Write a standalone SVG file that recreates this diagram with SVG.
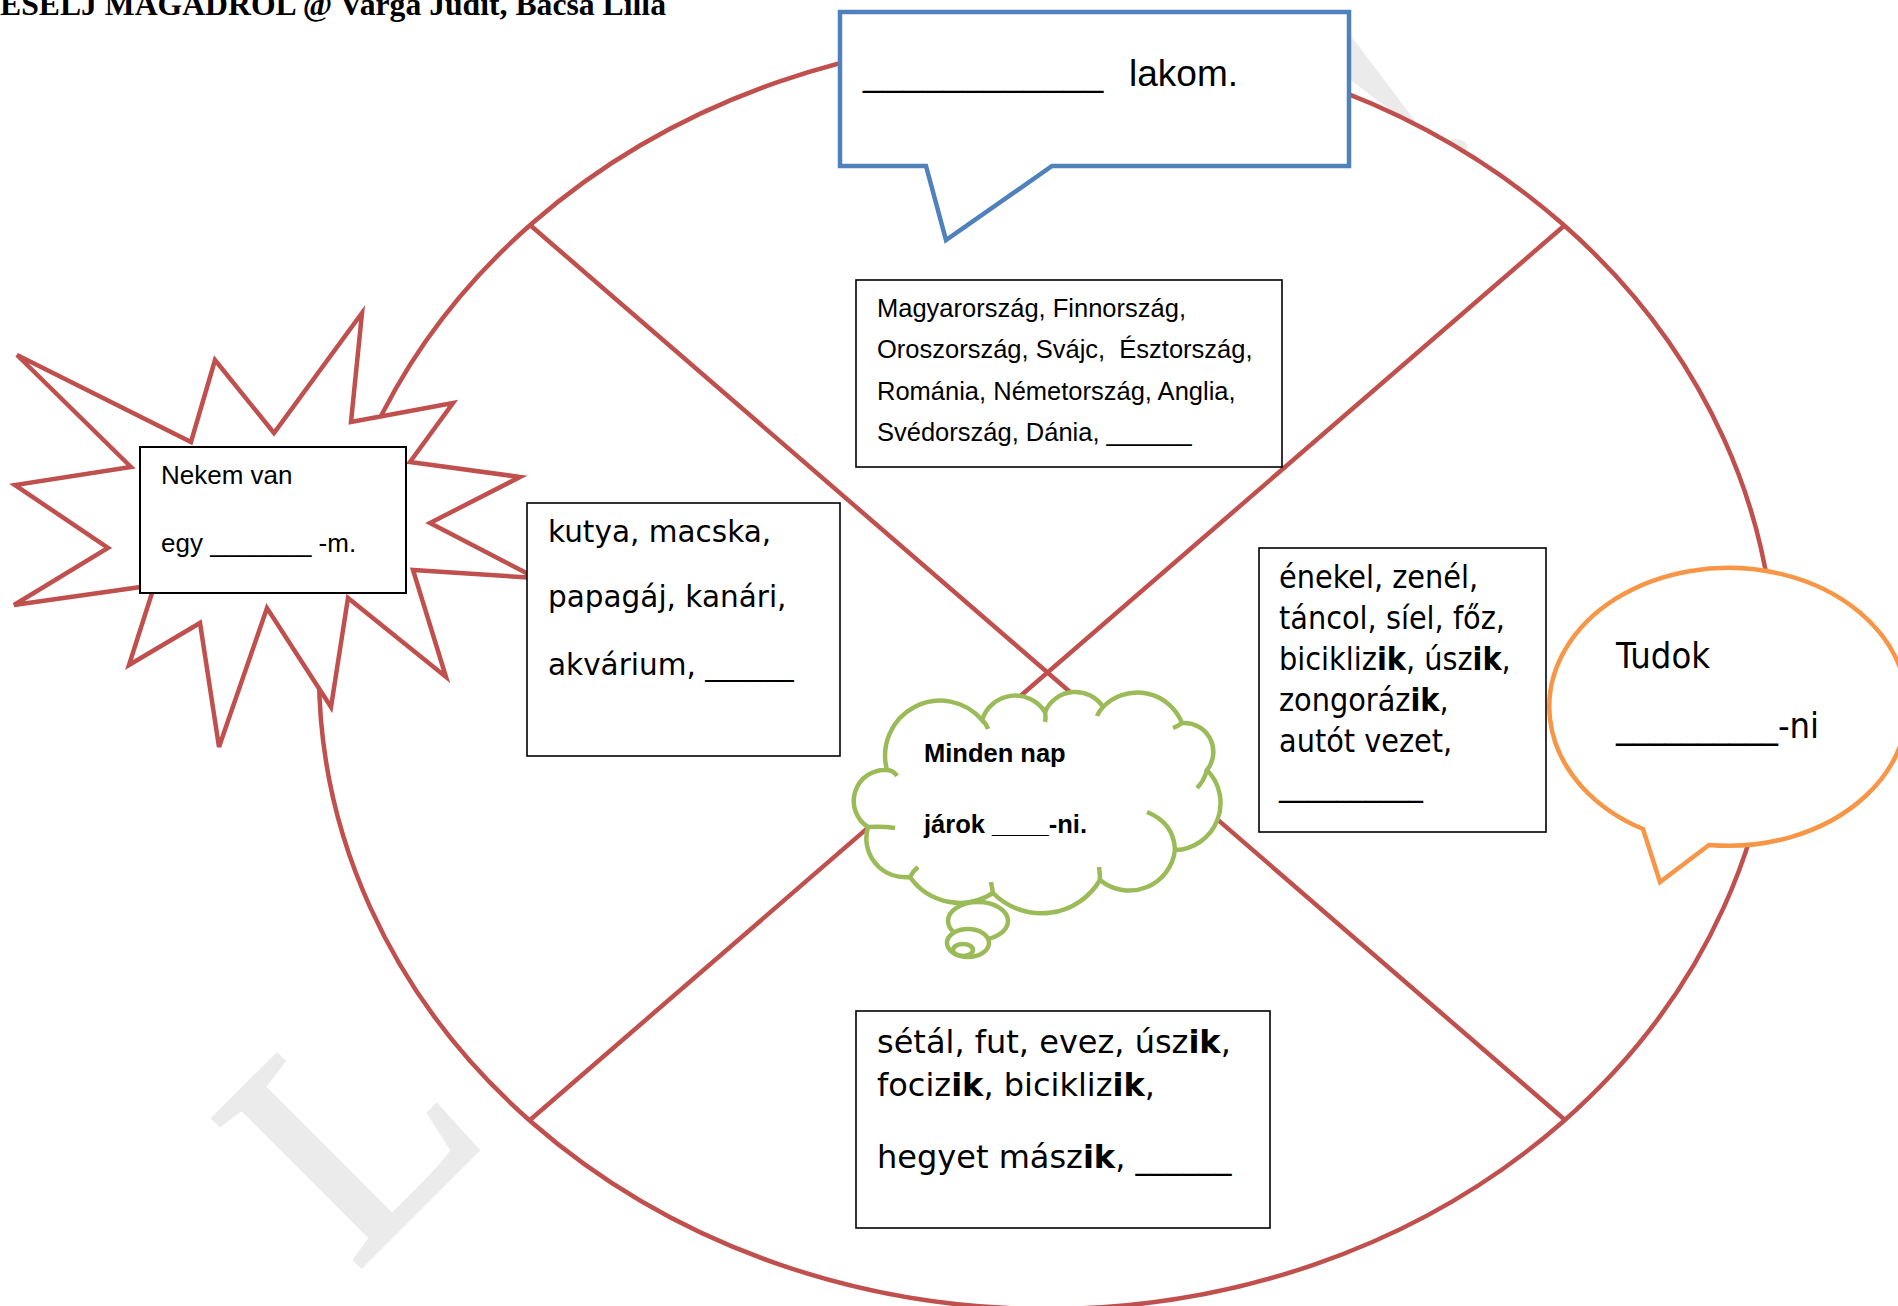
<svg xmlns="http://www.w3.org/2000/svg" width="1898" height="1306" viewBox="0 0 1898 1306">
<style>
.red{fill:#fff;stroke:#c0504d;stroke-width:4.5;stroke-linejoin:miter}
.redl{fill:none;stroke:#c0504d;stroke-width:4.5}
.box{fill:#fff;stroke:#000;stroke-width:1.6}
.green{fill:#fff;stroke:#9bbb59;stroke-width:4.5}
.curl{fill:none;stroke:#9bbb59;stroke-width:4.5}
.cal{font-family:"Liberation Sans",Arial,sans-serif;fill:#000}
.ver{font-family:"DejaVu Sans",Verdana,sans-serif;fill:#000}
.tah{font-family:"DejaVu Sans Condensed","DejaVu Sans",sans-serif;font-stretch:condensed;fill:#000}
.pre{white-space:pre}
.wm{fill:#ebebeb}
</style>
<rect x="0" y="0" width="1898" height="1306" fill="#fff"/>
<g id="watermark">
<text class="wm" transform="translate(355,1272) rotate(-45)" font-family="Liberation Serif" font-size="318" stroke="#ebebeb" stroke-width="5">L</text>
<polygon class="wm" points="1345,28 1428,138 1345,76"/>
<ellipse class="wm" cx="1455" cy="147" rx="12" ry="8"/>
</g>
<g id="circle">
<ellipse class="red" cx="1047" cy="673" rx="728" ry="636"/>
</g>
<g id="connectors">
<line class="redl" x1="530" y1="225" x2="1565" y2="1120"/>
<line class="redl" x1="1565" y1="225" x2="530" y2="1120"/>
</g>
<g id="starburst">
<polygon class="red" points="131,467 17,355 191,442 215,360 274,433 362,313 351,422 453,403 410,462 520,477 430,523 536,578 413,570 446,677 348,598 331,707 267,608 219,747 200,623 129,665 152,593 148,586 14,605 108,548 15,485"/>
</g>
<g id="nekem">
<rect class="box" x="140" y="447" width="266" height="146" style="stroke-width:2"/>
<text class="cal" x="161" y="484" font-size="26">Nekem van</text>
<text class="cal pre" x="161" y="552" font-size="26">egy _______ -m.</text>
</g>
<g id="lakom">
<path d="M840,12 H1349 V166 H1052 L946,240 L926,166 H840 Z" fill="#fff" stroke="#4f81bd" stroke-width="4.5"/>
<text class="cal pre" x="863" y="86" font-size="36">____________  <tspan x="1129" font-size="37">lakom.</tspan></text>
</g>
<g id="tudok">
<path d="M1643,829 A179,139 0 1 1 1709,845 L1660,882 Z" fill="#fff" stroke="#f79646" stroke-width="4.5"/>
<text class="tah" x="1616" y="668" font-size="36">Tudok</text>
<text class="tah" x="1616" y="738" font-size="36">__________-ni</text>
</g>
<g id="orszagok">
<rect class="box" x="856" y="280" width="426" height="187"/>
<text class="cal" x="877" y="317" font-size="25.5">Magyarország, Finnország,</text>
<text class="cal pre" x="877" y="358" font-size="25.5">Oroszország, Svájc,  Észtország,</text>
<text class="cal" x="877" y="400" font-size="25.5">Románia, Németország, Anglia,</text>
<text class="cal" x="877" y="441" font-size="25.5">Svédország, Dánia, ______</text>
</g>
<g id="allatok">
<rect class="box" x="527" y="503" width="313" height="253"/>
<text class="ver" x="548" y="542" font-size="29.5">kutya, macska,</text>
<text class="ver" x="548" y="607" font-size="29.5">papagáj, kanári,</text>
<text class="ver" x="548" y="675" font-size="29.5">akvárium, ______</text>
</g>
<g id="tudas">
<rect class="box" x="1259" y="548" width="287" height="284"/>
<text class="tah" x="1279" y="588" font-size="32">énekel, zenél,</text>
<text class="tah" x="1279" y="629" font-size="32">táncol, síel, főz,</text>
<text class="tah" x="1279" y="670" font-size="32">bicikliz<tspan font-weight="bold">ik</tspan>, úsz<tspan font-weight="bold">ik</tspan>,</text>
<text class="tah" x="1279" y="711" font-size="32">zongoráz<tspan font-weight="bold">ik</tspan>,</text>
<text class="tah" x="1279" y="752" font-size="32">autót vezet,</text>
<text class="tah" x="1279" y="795" font-size="32">__________</text>
</g>
<g id="sport">
<rect class="box" x="856" y="1011" width="414" height="217"/>
<text class="ver" x="877" y="1053" font-size="32">sétál, fut, evez, úsz<tspan font-weight="bold">ik</tspan>,</text>
<text class="ver" x="877" y="1096" font-size="32">fociz<tspan font-weight="bold">ik</tspan>, bicikliz<tspan font-weight="bold">ik</tspan>,</text>
<text class="ver" x="877" y="1168" font-size="32">hegyet mász<tspan font-weight="bold">ik</tspan>, ______</text>
</g>
<g id="cloud">
<path class="green" d="M868,827 A31,31 0 0 1 887,770 A55,55 0 0 1 982,720 A35,35 0 0 1 1045,712 A33,33 0 0 1 1103,707 A48,48 0 0 1 1182,723 A29,29 0 0 1 1207,770 A47,47 0 0 1 1175,850 A46,46 0 0 1 1100,880 A68,68 0 0 1 993,893 A61,61 0 0 1 910,877 A39,39 0 0 1 868,827 Z"/>
<path class="curl" d="M887,770 Q893,770 897,776 M982,720 Q986,723 988,729 M1045,712 Q1046,717 1045,722 M1103,707 Q1099,711 1097,716 M1182,723 Q1178,726 1173,728 M1207,770 Q1204,781 1197,788 M1175,850 Q1174,823 1147,812 M1100,880 Q1100,874 1099,867 M993,893 Q992,888 991,882 M910,877 Q913,871 918,867 M868,827 Q882,826 895,828"/>
<ellipse class="green" cx="978" cy="921" rx="30" ry="19"/>
<ellipse class="green" cx="968" cy="943" rx="21" ry="14"/>
<ellipse class="green" cx="963" cy="950" rx="10" ry="6"/>
<text class="cal" x="924" y="762" font-size="25.5" font-weight="bold">Minden nap</text>
<text class="cal" x="924" y="833" font-size="25.5" font-weight="bold">járok ____-ni.</text>
</g>
<g id="title">
<text x="0" y="15" font-family="Liberation Serif" font-weight="bold" font-size="31.7" fill="#000">ESELJ MAGADROL @ Varga Judit, Bacsa Lilla</text>
</g>
</svg>
